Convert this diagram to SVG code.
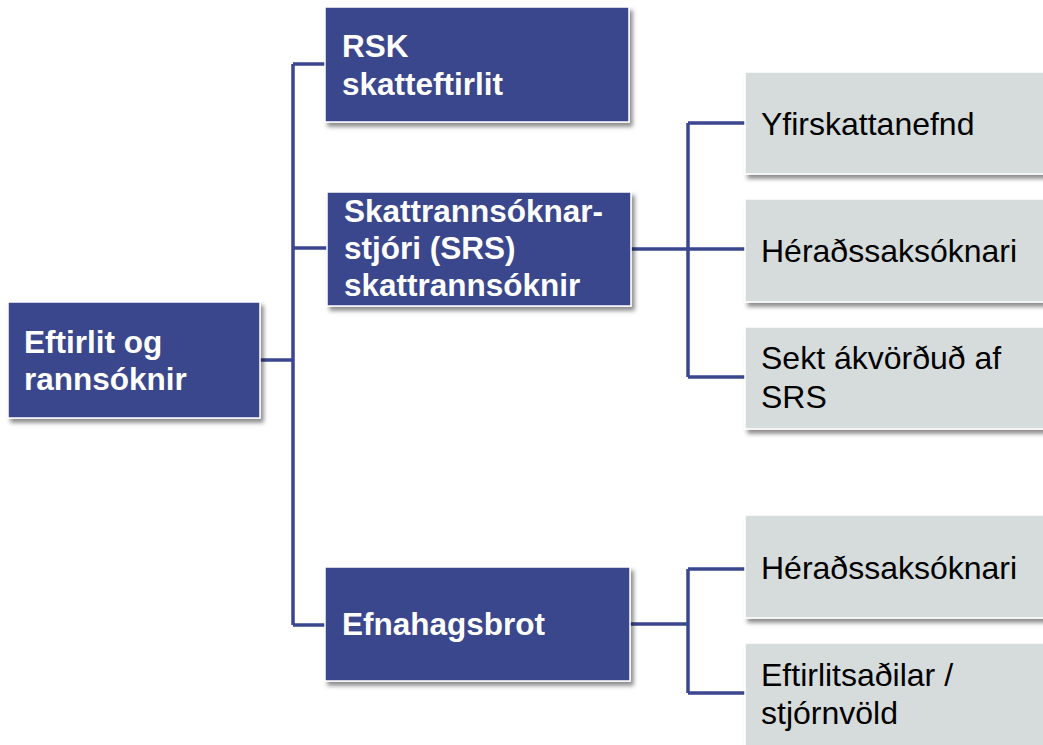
<svg xmlns="http://www.w3.org/2000/svg" width="1043" height="745" viewBox="0 0 1043 745">
<defs>
<filter id="sh" x="-10%" y="-10%" width="130%" height="140%">
<feDropShadow dx="3" dy="4" stdDeviation="2.2" flood-color="#000" flood-opacity="0.45"/>
</filter>
<style>
.blue{fill:#3A478C;stroke:#fff;stroke-width:1.5;filter:url(#sh)}
.gray{fill:#D6DBDB;stroke:#fff;stroke-width:1.5;filter:url(#sh)}
.bt{font-family:"Liberation Sans",Arial,sans-serif;font-weight:bold;font-size:31.5px;fill:#fff}
.gt{font-family:"Liberation Sans",Arial,sans-serif;font-size:32px;fill:#000}
.c{fill:none;stroke:#3A478F;stroke-width:3.5}
</style>
</defs>
<rect width="1043" height="745" fill="#fff"/>
<g id="connectors">
<path class="c" d="M260 360 H293 M293 64 V625 M293 64 H325 M293 248 H327 M293 625 H325"/>
<path class="c" d="M631 249 H688 M688 123 V377 M688 123 H745 M688 249 H745 M688 377 H745"/>
<path class="c" d="M630 624 H688 M688 569 V693 M688 569 H745 M688 693 H745"/>
</g>
<g id="root">
<rect class="blue" x="8" y="302" width="252" height="116"/>
<text class="bt" x="24" y="353">Eftirlit og</text>
<text class="bt" x="24" y="390">rannsóknir</text>
</g>
<g id="rsk">
<rect class="blue" x="325" y="7" width="304" height="115"/>
<text class="bt" x="342" y="57">RSK</text>
<text class="bt" x="342" y="95">skatteftirlit</text>
</g>
<g id="srs">
<rect class="blue" x="327" y="192" width="304" height="114"/>
<text class="bt" x="344" y="222">Skattrannsóknar-</text>
<text class="bt" x="344" y="259">stjóri (SRS)</text>
<text class="bt" x="344" y="296">skattrannsóknir</text>
</g>
<g id="efnahagsbrot">
<rect class="blue" x="325" y="567" width="305" height="114"/>
<text class="bt" x="342" y="635">Efnahagsbrot</text>
</g>
<g id="yfirskattanefnd">
<rect class="gray" x="745" y="72" width="310" height="102"/>
<text class="gt" x="761" y="135">Yfirskattanefnd</text>
</g>
<g id="heradssaksoknari1">
<rect class="gray" x="745" y="199" width="310" height="103"/>
<text class="gt" x="761" y="262">Héraðssaksóknari</text>
</g>
<g id="sekt">
<rect class="gray" x="745" y="327" width="310" height="102"/>
<text class="gt" x="761" y="369">Sekt ákvörðuð af</text>
<text class="gt" x="761" y="408">SRS</text>
</g>
<g id="heradssaksoknari2">
<rect class="gray" x="745" y="515" width="310" height="103"/>
<text class="gt" x="761" y="579">Héraðssaksóknari</text>
</g>
<g id="eftirlitsadilar">
<rect class="gray" x="745" y="643" width="310" height="115"/>
<text class="gt" x="761" y="686">Eftirlitsaðilar /</text>
<text class="gt" x="761" y="724">stjórnvöld</text>
</g>
</svg>
